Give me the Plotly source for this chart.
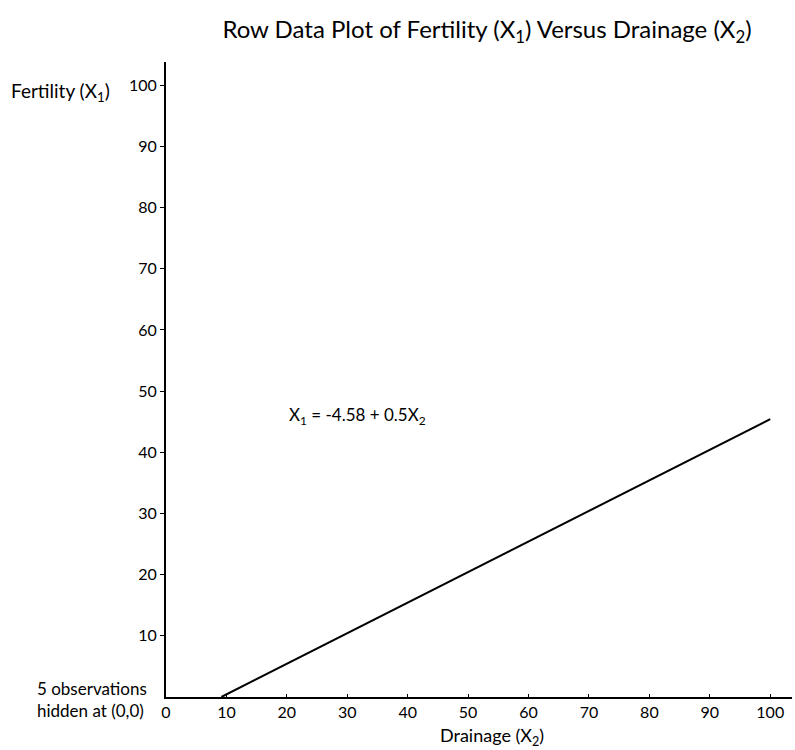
import plotly.graph_objects as go

# Data
line_x = [9.16, 100]
intercept = -4.58
slope = 0.5
line_y = [intercept + slope * v for v in line_x]
x_ticks = [0, 10, 20, 30, 40, 50, 60, 70, 80, 90, 100]
y_ticks = [10, 20, 30, 40, 50, 60, 70, 80, 90, 100]

FONT = "Lato, 'Noto Sans', sans-serif"

fig = go.Figure()
fig.add_trace(go.Scatter(x=line_x, y=line_y, mode="lines",
                         line=dict(color="black", width=2), showlegend=False,
                         hoverinfo="skip"))

W, H = 795, 750
ml, mr, mt, mb = 166, 3, 62, 53
pw, ph = W - ml - mr, H - mt - mb

def px(xp):
    return (xp - ml) / pw

def py(yp):
    return (H - mb - yp) / ph

fig.update_layout(
    width=W, height=H,
    margin=dict(l=ml, r=mr, t=mt, b=mb),
    paper_bgcolor="white", plot_bgcolor="white",
    font=dict(family=FONT, color="black", size=16),
    title=dict(text="Row Data Plot of Fertility (X<sub>1</sub>) Versus Drainage (X<sub>2</sub>)",
               x=487 / W, xanchor="center", y=1 - 30 / H, yanchor="middle",
               font=dict(size=24, family=FONT, color="black")),
    xaxis=dict(range=[0, 103.6], tickvals=x_ticks, ticktext=[str(v) for v in x_ticks],
               showgrid=False, zeroline=False, showline=True, linecolor="black", linewidth=2,
               ticks="inside", ticklen=3, tickcolor="black", tickfont=dict(size=16)),
    yaxis=dict(range=[0, 103.8], tickvals=y_ticks, ticktext=[str(v) for v in y_ticks],
               showgrid=False, zeroline=False, showline=True, linecolor="black", linewidth=2,
               ticks="outside", ticklen=4, tickcolor="black", tickfont=dict(size=16)),
    annotations=[
        dict(text="Fertility (X<sub>1</sub>)", xref="paper", yref="paper",
             x=px(9), y=py(92), xanchor="left", yanchor="middle", showarrow=False,
             font=dict(size=19)),
        dict(text="5 observations<br>hidden at (0,0)", xref="paper", yref="paper",
             x=px(149), y=py(700), xanchor="right", yanchor="middle", align="left",
             showarrow=False, font=dict(size=17)),
        dict(text="Drainage (X<sub>2</sub>)", xref="paper", yref="paper",
             x=px(492), y=py(736), xanchor="center", yanchor="middle", showarrow=False,
             font=dict(size=18)),
        dict(text="X<sub>1</sub> = -4.58 + 0.5X<sub>2</sub>", xref="x", yref="y",
             x=20, y=46, xanchor="left", yanchor="middle", showarrow=False,
             font=dict(size=17)),
    ],
)

fig.write_html("out.html")
